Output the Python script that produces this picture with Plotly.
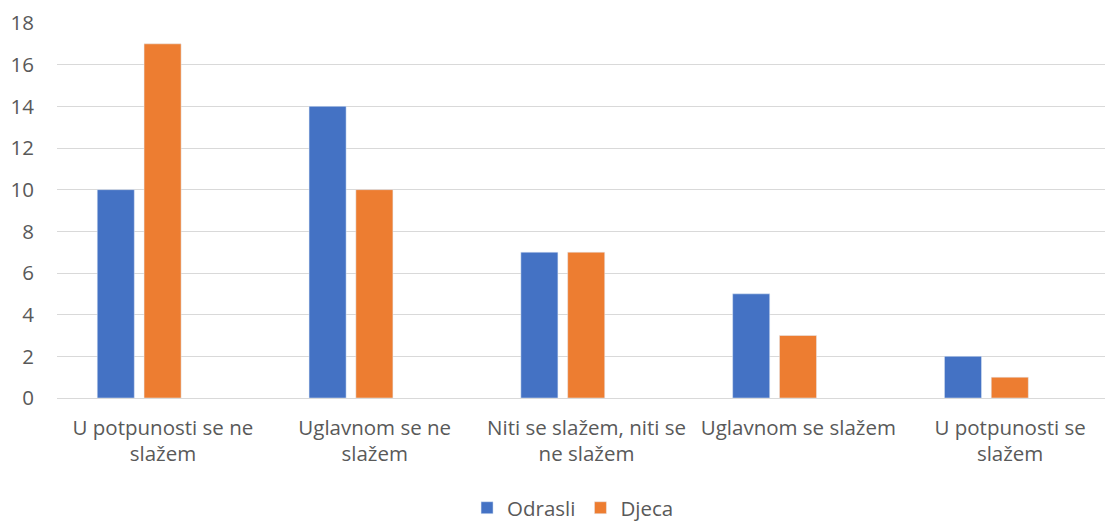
import plotly.graph_objects as go

categories = ["U potpunosti se ne<br>slažem", "Uglavnom se ne<br>slažem",
              "Niti se slažem, niti se<br>ne slažem", "Uglavnom se slažem",
              "U potpunosti se<br>slažem"]
odrasli = [10, 14, 7, 5, 2]
djeca = [17, 10, 7, 3, 1]
y_ticks = [0, 2, 4, 6, 8, 10, 12, 14, 16, 18]

fig = go.Figure()
fig.add_trace(go.Bar(x=categories, y=odrasli, name="Odrasli", marker_color="#4472C4",
                     width=0.175, offset=-0.31))
fig.add_trace(go.Bar(x=categories, y=djeca, name="Djeca", marker_color="#ED7D31",
                     width=0.175, offset=-0.089))

font = dict(family="Open Sans, Lato, sans-serif", size=20.5, color="#595959")
fig.update_layout(
    width=1105, height=522,
    margin=dict(l=57, r=0, t=23, b=124),
    plot_bgcolor="white", paper_bgcolor="white",
    font=font,
    barmode="overlay",
    showlegend=True,
    legend=dict(orientation="h", xref="container", x=0.5186, xanchor="center",
                yref="container", y=0.027, yanchor="middle",
                font=font, itemwidth=30, traceorder="normal"),
    xaxis=dict(range=[-0.5, 4.448], showgrid=False, showline=False, tickfont=font, ticks="",
               ticklabelstandoff=15, automargin=False),
    yaxis=dict(range=[0, 18], tickvals=y_ticks, showgrid=True, gridcolor="#D9D9D9", gridwidth=1,
               zeroline=True, zerolinecolor="#D9D9D9", zerolinewidth=1,
               tickfont=font, ticklabelstandoff=22, showline=False, automargin=False),
)
fig.write_html("out.html", config={"displayModeBar": False},
               post_script="document.body.style.margin='0';document.body.style.overflow='hidden';")
